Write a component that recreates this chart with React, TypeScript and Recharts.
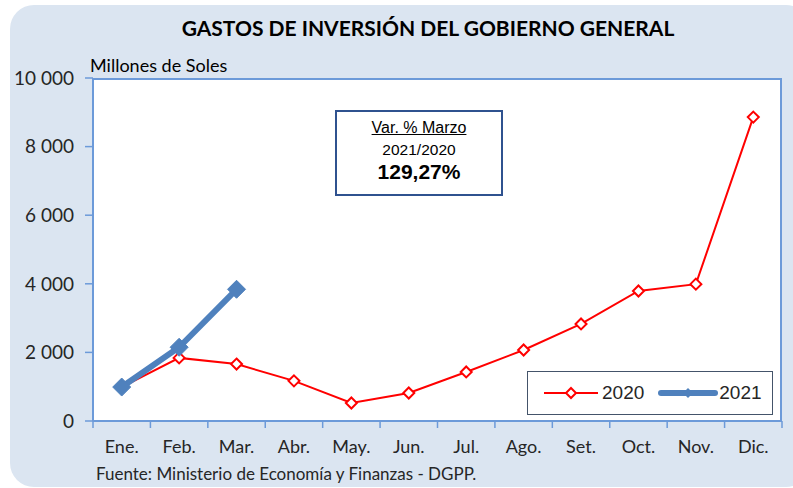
import { ComposedChart, Line, XAxis, YAxis } from 'recharts';

const months = ['Ene.', 'Feb.', 'Mar.', 'Abr.', 'May.', 'Jun.', 'Jul.', 'Ago.', 'Set.', 'Oct.', 'Nov.', 'Dic.'];
const gastos2020 = [990, 1840, 1660, 1170, 525, 816, 1430, 2070, 2830, 3790, 3990, 8860];
const gastos2021: (number | null)[] = [990, 2150, 3840, null, null, null, null, null, null, null, null, null];
const yTicks = [0, 2000, 4000, 6000, 8000, 10000];

const data = months.map((m, i) => ({ mes: m, y2020: gastos2020[i], y2021: gastos2021[i] }));

const FONT = 'Lato, "Open Sans", sans-serif';
const AXIS_BLUE = '#6c9ad9';
const RED = '#ff0000';
const BLUE = '#4f81bd';

const fmt = (v: number) => v.toLocaleString('en-US').replace(/,/g, ' ');

const diamond = (cx: number, cy: number, r: number) =>
  `M${cx},${cy - r} L${cx + r},${cy} L${cx},${cy + r} L${cx - r},${cy} Z`;

const RedDot = (props: any) => {
  const { cx, cy, index } = props;
  if (cx == null || cy == null) return <g key={index} />;
  return <path key={index} d={diamond(cx, cy, 5.5)} fill="#fff" stroke={RED} strokeWidth={2} />;
};

const BlueDot = (props: any) => {
  const { cx, cy, index } = props;
  if (cx == null || cy == null) return <g key={index} />;
  return <path key={index} d={diamond(cx, cy, 9)} fill={BLUE} stroke={BLUE} strokeWidth={1} />;
};

// x tick: label at band centre, tick mark at band boundaries
const band = 689 / 12;
const MonthTick = (props: any) => {
  const { x, y, payload, index } = props;
  return (
    <g>
      <line x1={x - band / 2} x2={x - band / 2} y1={y - 8} y2={y - 1} stroke={AXIS_BLUE} strokeWidth={1.5} />
      {index === months.length - 1 && (
        <line x1={x + band / 2} x2={x + band / 2} y1={y - 8} y2={y - 1} stroke={AXIS_BLUE} strokeWidth={1.5} />
      )}
      <text x={x} y={y + 24} textAnchor="middle" fontSize={18} fill="#262626" fontFamily={FONT}>
        {payload.value}
      </text>
    </g>
  );
};

const LegendBox = () => (
  <div
    style={{
      position: 'absolute',
      left: 527,
      top: 371,
      width: 246,
      height: 44,
      border: '1.5px solid #44546a',
      background: '#fff',
      boxSizing: 'border-box',
      display: 'flex',
      alignItems: 'center',
      fontFamily: 'Arial, "Liberation Sans", sans-serif',
      fontSize: 19,
      color: '#262626',
    }}
  >
    <svg width={54} height={20} style={{ marginLeft: 16 }}>
      <line x1={0} x2={54} y1={10} y2={10} stroke={RED} strokeWidth={2} />
      <path d={diamond(27, 10, 5)} fill="#fff" stroke={RED} strokeWidth={2} />
    </svg>
    <span style={{ marginLeft: 4 }}>2020</span>
    <svg width={60} height={20} style={{ marginLeft: 14 }}>
      <line x1={3} x2={57} y1={10} y2={10} stroke={BLUE} strokeWidth={6} strokeLinecap="round" />
      <path d={diamond(30, 10, 5)} fill={BLUE} />
    </svg>
    <span style={{ marginLeft: 1 }}>2021</span>
  </div>
);

export default function App() {
  return (
    <div style={{ position: 'absolute', left: 0, top: 0, width: 793, height: 488, overflow: 'hidden', background: '#fff' }}>
      <div
        style={{
          position: 'absolute',
          left: 10,
          top: 5,
          width: 800,
          height: 482,
          borderRadius: 24,
          background: '#dbe5f1',
        }}
      />
      <div
        style={{
          position: 'absolute',
          left: 0,
          top: 15,
          width: 856,
          textAlign: 'center',
          fontFamily: FONT,
          fontWeight: 700,
          fontSize: 21,
          color: '#000',
        }}
      >
        GASTOS DE INVERSIÓN DEL GOBIERNO GENERAL
      </div>
      <div style={{ position: 'absolute', left: 90, top: 54, fontFamily: FONT, fontSize: 18, color: '#000' }}>
        Millones de Soles
      </div>
      <div
        style={{
          position: 'absolute',
          left: 93,
          top: 78,
          width: 689,
          height: 343,
          background: '#fff',
          borderTop: `2px solid ${AXIS_BLUE}`,
          borderRight: `2px solid ${AXIS_BLUE}`,
          boxSizing: 'border-box',
        }}
      />
      <div style={{ position: 'absolute', left: 0, top: 0 }}>
        <ComposedChart width={793} height={488} data={data} margin={{ top: 78, right: 11, bottom: 0, left: 0 }}>
          <XAxis
            dataKey="mes"
            scale="band"
            axisLine={{ stroke: AXIS_BLUE, strokeWidth: 2 }}
            tickLine={false}
            tick={<MonthTick />}
            interval={0}
            height={67}
          />
          <YAxis
            domain={[0, 10000]}
            ticks={yTicks}
            width={93}
            tickFormatter={fmt}
            axisLine={{ stroke: AXIS_BLUE, strokeWidth: 2 }}
            tickLine={{ stroke: AXIS_BLUE, strokeWidth: 1.5 }}
            tickSize={8}
            tickMargin={11}
            tick={{ fontSize: 19, fill: '#262626', fontFamily: FONT }}
          />
          <Line
            dataKey="y2020"
            stroke={RED}
            strokeWidth={2}
            dot={<RedDot />}
            activeDot={false}
            isAnimationActive={false}
            type="linear"
          />
          <Line
            dataKey="y2021"
            stroke={BLUE}
            strokeWidth={6}
            dot={<BlueDot />}
            activeDot={false}
            isAnimationActive={false}
            connectNulls={false}
            type="linear"
          />
        </ComposedChart>
      </div>
      <LegendBox />
      <div
        style={{
          position: 'absolute',
          left: 335,
          top: 110,
          width: 168,
          height: 86,
          border: '2px solid #2f528f',
          background: '#fff',
          boxSizing: 'border-box',
          textAlign: 'center',
          fontFamily: 'Arial, "Liberation Sans", sans-serif',
          color: '#000',
          lineHeight: 1.15,
        }}
      >
        <div style={{ fontSize: 16, textDecoration: 'underline', marginTop: 7 }}>Var. % Marzo</div>
        <div style={{ fontSize: 15.5, marginTop: 4 }}>2021/2020</div>
        <div style={{ fontSize: 21, fontWeight: 700, marginTop: 1 }}>129,27%</div>
      </div>
      <div style={{ position: 'absolute', left: 96, top: 463, fontFamily: FONT, fontSize: 17, color: '#262626' }}>
        Fuente: Ministerio de Economía y Finanzas - DGPP.
      </div>
    </div>
  );
}
